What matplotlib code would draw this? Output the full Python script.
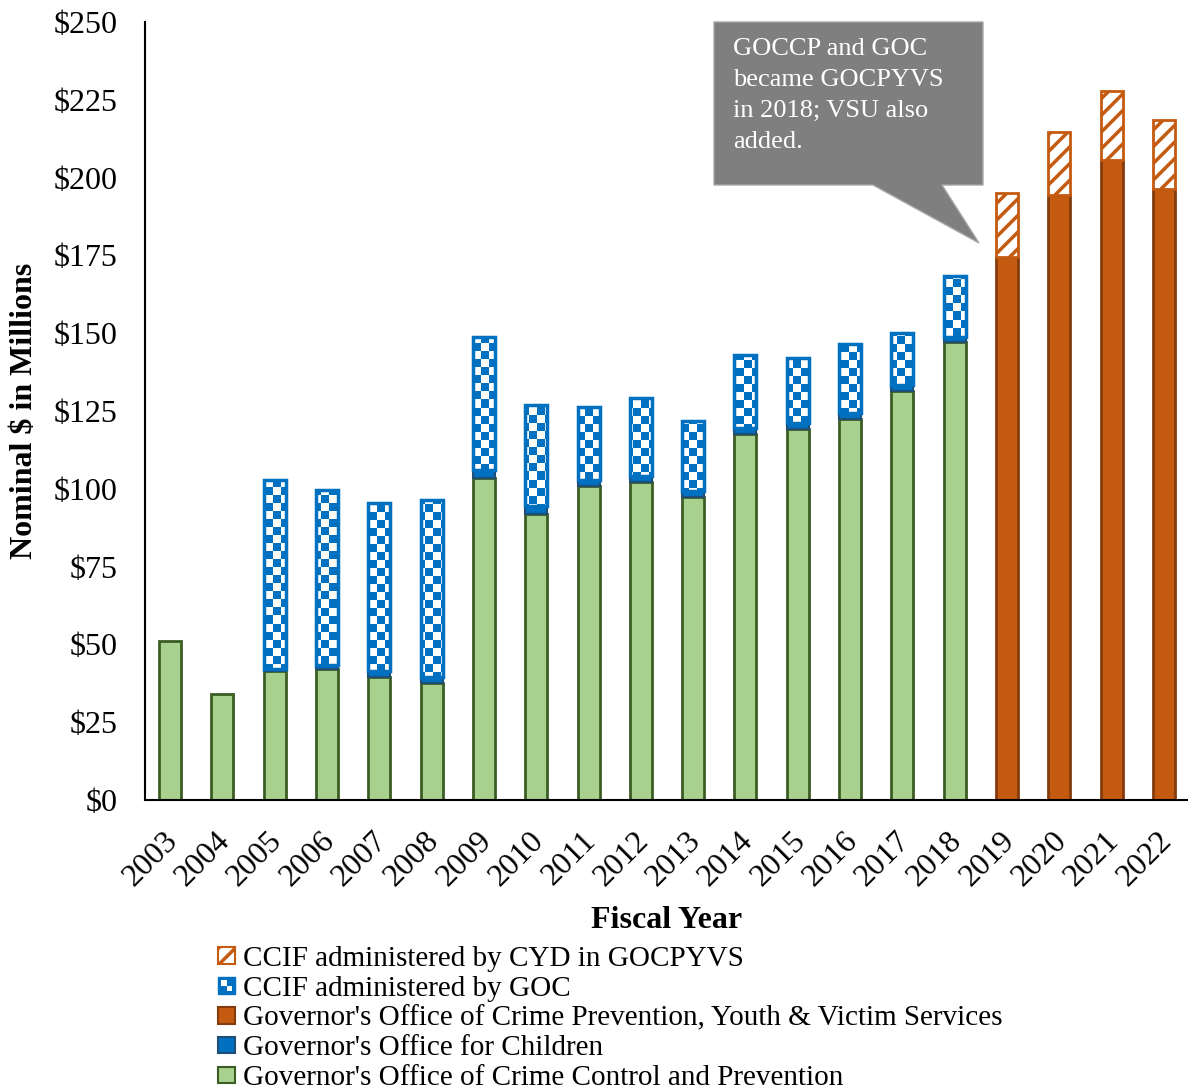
import matplotlib
matplotlib.use('Agg')
import matplotlib.pyplot as plt
import numpy as np
from matplotlib.patches import Rectangle, Polygon
from matplotlib.legend_handler import HandlerPatch
from matplotlib.transforms import ScaledTranslation

plt.rcParams['font.family'] = ['Liberation Serif', 'DejaVu Serif']
plt.rcParams['hatch.linewidth'] = 2.5

# data (millions of nominal dollars), nan = no bar segment
nan = np.nan
years = ['2003', '2004', '2005', '2006', '2007', '2008', '2009', '2010', '2011', '2012',
         '2013', '2014', '2015', '2016', '2017', '2018', '2019', '2020', '2021', '2022']
goccp = [51.1, 34.0, 41.5, 42.0, 39.5, 37.6, 103.5, 91.9, 100.9, 102.2,
         97.4, 117.6, 119.2, 122.4, 131.4, 147.2, nan, nan, nan, nan]
goc = [nan, nan, 0.5, 1.3, 2.0, 2.0, 2.5, 2.5, 2.0, 2.0,
       2.0, 2.0, 2.0, 2.0, 2.0, 1.5, nan, nan, nan, nan]
ccif_goc = [nan, nan, 60.8, 56.3, 53.9, 56.8, 42.8, 32.5, 23.4, 25.0,
            22.4, 23.4, 20.8, 22.1, 16.6, 19.7, nan, nan, nan, nan]
gocpyvs = [nan] * 16 + [174.5, 194.4, 205.7, 196.3]
ccif_cyd = [nan] * 16 + [20.5, 20.3, 22.1, 22.2]

labels = ["CCIF administered by CYD in GOCPYVS",
          "CCIF administered by GOC",
          "Governor's Office of Crime Prevention, Youth & Victim Services",
          "Governor's Office for Children",
          "Governor's Office of Crime Control and Prevention"]

GREEN, GREEN_E = '#a9d18e', '#3b5e25'
BLUE, BLUE_E = '#0070c0', '#1f4e79'
ORANGE, ORANGE_E = '#c55a11', '#843c0c'

x = np.arange(len(years))
w = 0.42

fig = plt.figure(figsize=(11.88, 10.89), dpi=100)
ax = fig.add_axes([145 / 1188, 1 - 800 / 1089, 1043 / 1188, 778 / 1089])

g = np.array(goccp)
c = np.array(goc)
cc = np.array(ccif_goc)
o = np.array(gocpyvs)
cy = np.array(ccif_cyd)
g0 = np.nan_to_num(g)
c0 = np.nan_to_num(c)
o0 = np.nan_to_num(o)

ax.bar(x, g, w, color=GREEN, edgecolor=GREEN_E, linewidth=2, zorder=2)
ax.bar(x, c, w, bottom=g0, color=BLUE, edgecolor=BLUE_E, linewidth=1.5, zorder=2)
checker_bars = ax.bar(x, cc, w, bottom=g0 + c0, color=BLUE, edgecolor=BLUE, linewidth=2, zorder=2)
ax.bar(x, o, w, color=ORANGE, edgecolor=ORANGE_E, linewidth=2, zorder=2)
ax.bar(x, cy, w, bottom=o0, color='white', edgecolor=ORANGE, linewidth=2, hatch='//', zorder=2)

xlim = (-0.48, 19.46)
ylim = (0, 250)

# checker pattern over the GOC CCIF bars (approx 8px cells)
cw = 8 / (1043 / (xlim[1] - xlim[0]))
ch = 8 / (778 / 250)
nx = int(np.ceil((xlim[1] - xlim[0]) / cw))
ny = int(np.ceil(250 / ch))
ii, jj = np.indices((ny, nx))
pat = np.zeros((ny, nx, 4))
pat[(ii + jj) % 2 == 0] = [1, 1, 1, 1]
for r in checker_bars:
    if not np.isfinite(r.get_height()):
        continue
    im = ax.imshow(pat, extent=(xlim[0], xlim[0] + nx * cw, 0, ny * ch), origin='lower',
                   aspect='auto', interpolation='nearest', zorder=2.5)
    im.set_clip_path(r)
ax.bar(x, cc, w, bottom=g0 + c0, color='none', edgecolor=BLUE, linewidth=2.5, zorder=3)
ax.set_xlim(*xlim)
ax.set_ylim(*ylim)

ax.set_yticks(np.arange(0, 251, 25))
ax.set_yticklabels(['$' + str(v) for v in range(0, 251, 25)])
ax.set_xticks(x)
ax.set_xticklabels(years, rotation=45, ha='right', rotation_mode='anchor')
ax.tick_params(axis='y', length=0, pad=20, labelsize=23)
ax.tick_params(axis='x', length=0, pad=16, labelsize=23)
shift = ScaledTranslation(-7 / 100, -4 / 100, fig.dpi_scale_trans)
for lab in ax.get_xticklabels():
    lab.set_transform(lab.get_transform() + shift)
for s in ['top', 'right']:
    ax.spines[s].set_visible(False)
for s in ['left', 'bottom']:
    ax.spines[s].set_linewidth(1.5)
ax.set_xlabel('Fiscal Year', fontsize=23, fontweight='bold', labelpad=10)
ax.set_ylabel('Nominal $ in Millions', fontsize=23, fontweight='bold', labelpad=10)


# legend handle for checker pattern
class CheckerHandler(HandlerPatch):
    def create_artists(self, legend, orig_handle, xdescent, ydescent, width, height, fontsize, trans):
        s = height
        x0 = -xdescent
        y0 = -ydescent
        base = Rectangle((x0, y0), s, s, facecolor=BLUE, edgecolor=BLUE, lw=1, transform=trans)
        w1 = Rectangle((x0 + s * 0.18, y0 + s * 0.45), s * 0.37, s * 0.37, facecolor='white', lw=0, transform=trans)
        w2 = Rectangle((x0 + s * 0.55, y0 + s * 0.15), s * 0.3, s * 0.3, facecolor='white', lw=0, transform=trans)
        return [base, w1, w2]


class SquareHandler(HandlerPatch):
    def create_artists(self, legend, orig_handle, xdescent, ydescent, width, height, fontsize, trans):
        s = height
        p = Rectangle((-xdescent, -ydescent), s, s, facecolor=orig_handle.get_facecolor(),
                      edgecolor=orig_handle.get_edgecolor(), lw=1.5, hatch=orig_handle.get_hatch(),
                      transform=trans)
        return [p]


h_cyd = Rectangle((0, 0), 1, 1, facecolor='white', edgecolor=ORANGE, hatch='//')
h_goc_ccif = Rectangle((0, 0), 1, 1, facecolor=BLUE)
h_gocpyvs = Rectangle((0, 0), 1, 1, facecolor=ORANGE, edgecolor=ORANGE_E)
h_goc = Rectangle((0, 0), 1, 1, facecolor=BLUE, edgecolor=BLUE_E)
h_goccp = Rectangle((0, 0), 1, 1, facecolor=GREEN, edgecolor=GREEN_E)
sq = SquareHandler()
fig.legend([h_cyd, h_goc_ccif, h_gocpyvs, h_goc, h_goccp], labels,
           handler_map={h_cyd: sq, h_goc_ccif: CheckerHandler(), h_gocpyvs: sq, h_goc: sq, h_goccp: sq},
           loc='upper left', bbox_to_anchor=(218 / 1188, 1 - 946 / 1089), frameon=False,
           fontsize=21, labelspacing=0.13, handlelength=0.5, handleheight=0.5,
           handletextpad=0.35, borderpad=0, borderaxespad=0)

# callout box
def fp(px, py):
    return (px / 1188, 1 - py / 1089)

callout = Polygon([fp(714, 22), fp(983, 22), fp(983, 185), fp(942, 185), fp(979, 243),
                   fp(873, 185), fp(714, 185)], closed=True, transform=fig.transFigure,
                  facecolor='#7f7f7f', edgecolor='#a6a6a6', lw=1)
fig.patches.append(callout)
fig.text(733 / 1188, 1 - 38 / 1089, 'GOCCP and GOC\nbecame GOCPYVS\nin 2018; VSU also\nadded.',
         color='white', fontsize=19, va='top', ha='left', linespacing=1.52)

fig.savefig('out.png', dpi=100)
